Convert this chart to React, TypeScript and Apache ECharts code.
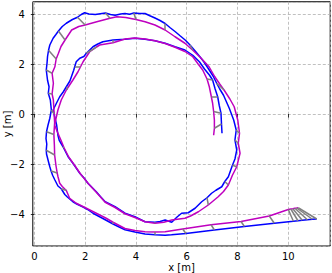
import React, { useEffect, useRef } from "react";
import * as echarts from "echarts";

// Ground-truth trajectory (blue), metres
const bluePath: [number, number][] = [
  [11.12, -4.2], [10.95, -4.21], [10.75, -4.23], [10.55, -4.25], [10.38, -4.27], [10.2, -4.29],
  [9.45, -4.37], [8.27, -4.5], [7.09, -4.64], [5.97, -4.78], [5.4, -4.83], [5.15, -4.85],
  [4.75, -4.83], [4.36, -4.8], [3.96, -4.72], [3.57, -4.63], [3.3, -4.5], [3.1, -4.4],
  [2.7, -4.18], [2.31, -3.97], [2.1, -3.82], [1.92, -3.72], [1.67, -3.6], [1.52, -3.51],
  [1.3, -3.32], [1.2, -3.22], [1.06, -2.99], [0.93, -2.88], [0.8, -2.62], [0.72, -2.45],
  [0.66, -2.28], [0.61, -2.11], [0.56, -1.92], [0.48, -1.6], [0.47, -1.45], [0.49, -1.2],
  [0.46, -0.98], [0.48, -0.71], [0.54, -0.44], [0.61, -0.17], [0.67, 0.16], [0.63, 0.56],
  [0.55, 0.83], [0.58, 1.09], [0.52, 1.35], [0.47, 1.76], [0.5, 2.03], [0.52, 2.3],
  [0.56, 2.55], [0.61, 2.76], [0.74, 3.03], [0.85, 3.18], [0.95, 3.32], [1.1, 3.5],
  [1.26, 3.63], [1.5, 3.78], [1.7, 3.87], [1.85, 3.98], [1.98, 4.05], [2.15, 4.0],
  [2.4, 3.98], [2.6, 4.01], [2.8, 4.04], [3.0, 3.98], [3.18, 3.95], [3.4, 4.0],
  [3.57, 4.02], [3.75, 3.99], [3.92, 4.04], [4.15, 4.02], [4.36, 4.02], [4.55, 3.93],
  [4.75, 3.84], [4.95, 3.74], [5.15, 3.62], [5.35, 3.45], [5.54, 3.3], [5.75, 3.12],
  [5.95, 2.95], [6.13, 2.76], [6.35, 2.5], [6.52, 2.29], [6.68, 2.08], [6.85, 1.82],
  [7.05, 1.5], [7.18, 1.23], [7.3, 1.0], [7.45, 0.75], [7.58, 0.45], [7.68, 0.22],
  [7.85, -0.24], [7.95, -0.64], [7.9, -1.04], [7.97, -1.44], [7.9, -1.8], [7.8, -2.05],
  [7.64, -2.51], [7.5, -2.7], [7.38, -2.91], [7.15, -3.05], [6.98, -3.17], [6.8, -3.35],
  [6.59, -3.51], [6.33, -3.77], [6.06, -3.95], [5.8, -3.97], [5.62, -4.12], [5.41, -4.33],
  [5.15, -4.24], [4.95, -4.3], [4.75, -4.33], [4.36, -4.31], [3.96, -4.11], [3.57, -3.97],
  [3.18, -3.71], [2.79, -3.51], [2.6, -3.3], [2.44, -3.11], [2.11, -2.77], [1.95, -2.55],
  [1.79, -2.37], [1.52, -1.97], [1.33, -1.71], [1.13, -1.31], [0.98, -1.05], [0.93, -0.85],
  [0.88, -0.45], [0.8, -0.1], [0.74, 0.16], [0.87, 0.43], [1.0, 0.69], [1.15, 0.9],
  [1.26, 1.09], [1.4, 1.32], [1.46, 1.49], [1.55, 1.75], [1.59, 1.89], [1.65, 2.09],
  [1.79, 2.23], [1.95, 2.3], [2.05, 2.43], [2.31, 2.69], [2.5, 2.8], [2.7, 2.89],
  [3.1, 2.96], [3.57, 2.99], [3.96, 3.03], [4.36, 2.99], [4.75, 2.93], [5.15, 2.83],
  [5.54, 2.69], [5.93, 2.56], [6.24, 2.35], [6.5, 2.09], [6.7, 1.8], [6.9, 1.55],
  [7.02, 1.36], [7.12, 1.0], [7.22, 0.69], [7.28, 0.35], [7.35, 0.03], [7.37, -0.4],
  [7.39, -0.77],
];

// Estimated trajectory (magenta), metres
const magentaPath: [number, number][] = [
  [10.39, -3.75], [10.33, -3.76], [10.26, -3.77], [10.18, -3.79], [10.1, -3.8], [10.0, -3.82],
  [9.25, -4.08], [8.14, -4.3], [6.96, -4.43], [5.84, -4.6], [5.15, -4.71], [4.75, -4.72],
  [4.36, -4.71], [3.96, -4.66], [3.57, -4.58], [3.1, -4.33], [2.83, -4.17], [2.44, -3.97],
  [2.05, -3.77], [1.65, -3.57], [1.39, -3.37], [1.26, -3.06], [1.1, -2.9], [1.0, -2.77],
  [0.93, -2.5], [0.9, -2.36], [0.85, -2.05], [0.8, -1.64], [0.79, -1.25], [0.77, -0.82],
  [0.8, -0.35], [0.78, 0.0], [0.75, 0.56], [0.7, 0.8], [0.75, 1.23], [0.7, 1.63],
  [0.81, 1.89], [0.86, 2.2], [0.95, 2.43], [1.05, 2.7], [1.21, 2.96], [1.47, 3.36],
  [1.75, 3.5], [2.0, 3.56], [2.46, 3.69], [2.98, 3.83], [3.25, 3.89], [3.6, 3.86],
  [4.0, 3.78], [4.36, 3.69], [4.75, 3.56], [5.15, 3.36], [5.54, 3.09], [5.93, 2.83],
  [6.24, 2.55], [6.55, 2.25], [6.88, 1.89], [7.1, 1.5], [7.3, 1.2], [7.47, 0.96],
  [7.7, 0.6], [7.87, 0.29], [8.01, -0.24], [8.08, -0.77], [8.03, -1.17], [8.1, -1.57],
  [7.97, -2.11], [7.8, -2.45], [7.64, -2.84], [7.45, -3.1], [7.24, -3.31], [6.85, -3.64],
  [6.46, -3.91], [6.15, -4.08], [5.93, -4.17], [5.41, -4.24], [5.1, -4.33], [4.75, -4.37],
  [4.36, -4.31], [3.96, -4.14], [3.57, -3.99], [3.18, -3.74], [2.79, -3.53], [2.44, -3.13],
  [2.13, -2.79], [1.82, -2.4], [1.55, -2.0], [1.36, -1.73], [1.17, -1.35], [1.05, -1.05],
  [0.9, -0.7], [0.8, -0.44], [0.84, -0.24], [0.93, 0.16], [1.06, 0.56], [1.26, 0.96],
  [1.52, 1.36], [1.72, 1.69], [1.82, 1.89], [1.92, 2.09], [2.18, 2.49], [2.45, 2.68],
  [2.57, 2.76], [3.1, 2.85], [3.57, 3.0], [3.96, 3.04], [4.36, 3.0], [4.75, 2.93],
  [5.15, 2.82], [5.54, 2.67], [5.93, 2.5], [6.24, 2.29], [6.45, 2.0], [6.63, 1.76],
  [6.8, 1.4], [6.89, 1.09], [6.97, 0.69], [7.02, 0.43], [7.06, 0.1], [7.09, -0.24],
  [7.09, -0.57], [7.06, -0.85],
];

// Correspondence links: [index in bluePath, index in magentaPath]
const linkPairs: [number, number][] = [
  [0, 0], [1, 1], [2, 2], [3, 3], [4, 4], [5, 5],
  [6, 6], [7, 7], [8, 8], [9, 9], [12, 11], [17, 15],
  [26, 21], [30, 25], [34, 27], [37, 29], [40, 31],
  [42, 33], [45, 35], [48, 37], [52, 40], [56, 43],
  [62, 45], [68, 48], [74, 51], [79, 54],
  [85, 59], [91, 63], [92, 64], [95, 66], [97, 68], [101, 71],
  [110, 77], [123, 88], [132, 95], [136, 98], [140, 101], [144, 103],
  [156, 114], [158, 116], [160, 118], [161, 120],
];

const xName = "x [m]";
const yName = "y [m]";

const fmt = (v: number) => (v < 0 ? "\u2212" + Math.abs(v) : String(v));

export default function App() {
  const ref = useRef<HTMLDivElement>(null);
  useEffect(() => {
    if (!ref.current) return;
    const chart = echarts.init(ref.current, undefined, { renderer: "svg" });
    const font = "DejaVu Sans";
    chart.setOption({
      animation: false,
      backgroundColor: "#ffffff",
      grid: {
        left: 32.8,
        top: 1.75,
        width: 297.4,
        height: 244.25,
        containLabel: false,
        outerBoundsMode: "none",
        show: true,
        borderColor: "#000",
        borderWidth: 1,
        backgroundColor: "transparent",
      },
      graphic: [
        {
          type: "text",
          x: 181.5,
          y: 267,
          style: {
            text: xName, fontFamily: font, fontSize: 10, fill: "#000",
            align: "center", verticalAlign: "middle",
          },
        },
        {
          type: "text",
          x: 7.5,
          y: 124,
          rotation: Math.PI / 2,
          style: {
            text: yName, fontFamily: font, fontSize: 10, fill: "#000",
            align: "center", verticalAlign: "middle",
          },
        },
      ],
      xAxis: {
        type: "value",
        min: -0.06,
        max: 11.65,
        splitNumber: 6,
        axisLine: { show: false },
        axisTick: { show: true, inside: false, length: 3.5, lineStyle: { color: "#000", width: 0.8 } },
        axisLabel: {
          fontFamily: font, fontSize: 10, color: "#000", margin: 5,
          showMinLabel: false, showMaxLabel: false, formatter: fmt,
        },
        splitLine: { show: true, lineStyle: { color: "#b0b0b0", width: 0.8, type: [3, 2] } },
      },
      yAxis: {
        type: "value",
        min: -5.28,
        max: 4.49,
        splitNumber: 5,
        axisLine: { show: false },
        axisTick: { show: true, inside: false, length: 3.5, lineStyle: { color: "#000", width: 0.8 } },
        axisLabel: {
          fontFamily: font, fontSize: 10, color: "#000", margin: 8,
          showMinLabel: false, showMaxLabel: false, formatter: fmt,
        },
        splitLine: { show: true, lineStyle: { color: "#b0b0b0", width: 0.8, type: [3, 2] } },
      },
      series: [
        {
          type: "line",
          data: bluePath,
          showSymbol: false,
          symbol: "none",
          lineStyle: { color: "#0000ff", width: 1.5 },
          z: 2,
        },
        {
          type: "line",
          data: magentaPath,
          showSymbol: false,
          symbol: "none",
          lineStyle: { color: "#bf00bf", width: 1.5 },
          z: 3,
        },
        {
          type: "lines",
          coordinateSystem: "cartesian2d",
          polyline: false,
          data: linkPairs.map(([b, m]) => ({ coords: [bluePath[b], magentaPath[m]] })),
          lineStyle: { color: "#808080", width: 1.5, opacity: 1 },
          z: 4,
        },
      ],
    });
    return () => chart.dispose();
  }, []);
  return <div ref={ref} style={{ width: 332, height: 273, position: "absolute", left: 0, top: 0 }} />;
}
